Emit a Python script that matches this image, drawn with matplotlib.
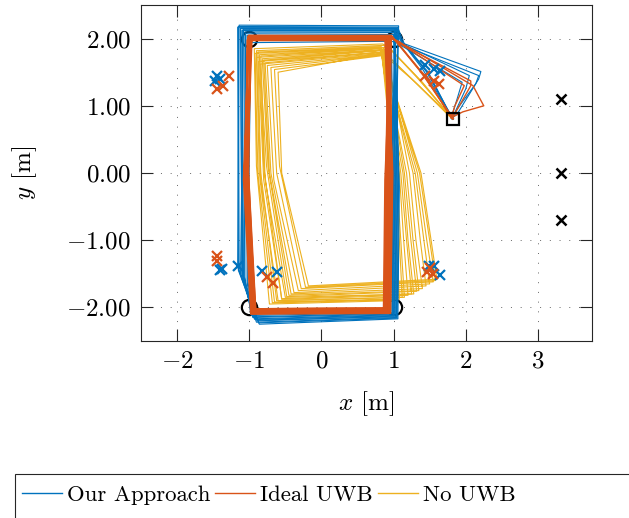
import matplotlib
matplotlib.use('Agg')
import matplotlib.pyplot as plt
from matplotlib.lines import Line2D
from matplotlib.patches import Rectangle
from matplotlib.ticker import FuncFormatter, MultipleLocator

# couleurs (palette matlab)
c_blue = '#0072BD'
c_orange = '#D95319'
c_yellow = '#EDB120'

########################
# Donnees
########################

# coins de chaque tour : TR, TL, gauche, BL, BR, droite
blue_tr_x = [1.04, 1.06, 1.02, 1.05, 1.07, 1.01, 1.04, 1.00, 1.03, 1.06, 1.02, 0.97]
blue_tr_y = [2.14, 2.17, 2.12, 2.15, 2.19, 2.10, 2.15, 2.06, 2.13, 2.16, 2.09, 1.96]
blue_tl_x = [-1.12, -1.15, -1.10, -1.08, -1.14, -1.06, -1.12, -1.03, -1.09, -1.16, -1.05, -0.98]
blue_tl_y = [2.15, 2.18, 2.12, 2.14, 2.20, 2.10, 2.16, 2.05, 2.13, 2.17, 2.08, 1.94]
blue_l_x = [-1.10, -1.14, -1.08, -1.12, -1.16, -1.06, -1.10, -1.03, -1.09, -1.15, -1.07, -1.02]
blue_l_y = [-1.50, -1.45, -1.55, -1.50, -1.40, -1.55, -1.50, -1.60, -1.50, -1.45, -1.55, -1.60]
blue_bl_x = [-0.92, -0.90, -0.95, -0.88, -0.86, -0.97, -0.90, -0.98, -0.93, -0.87, -0.95, -0.96]
blue_bl_y = [-2.18, -2.22, -2.15, -2.20, -2.25, -2.12, -2.19, -2.10, -2.17, -2.23, -2.14, -2.05]
blue_br_x = [1.02, 1.05, 0.99, 1.01, 1.06, 0.98, 1.03, 0.96, 1.00, 1.04, 0.98, 0.93]
blue_br_y = [-2.12, -2.15, -2.10, -2.13, -2.17, -2.08, -2.14, -2.06, -2.11, -2.16, -2.09, -2.05]
blue_r_x = [1.04, 1.07, 1.01, 1.03, 1.08, 0.99, 1.05, 0.97, 1.02, 1.06, 1.00, 0.94]
blue_r_y = [0.10, -0.10, 0.00, 0.20, -0.20, 0.00, 0.10, -0.10, 0.00, 0.20, -0.10, 0.00]
blue_runs = [3, 3, 3, 3]
blue_start_x = [[1.82, 1.45, 1.10], [1.80, 1.50, 1.12], [1.83, 1.40, 1.08], [1.81, 1.48, 1.15]]
blue_start_y = [[0.81, 1.52, 1.98], [0.83, 1.45, 1.95], [0.80, 1.55, 2.00], [0.82, 1.50, 1.92]]
blue_end_x = [[1.08, 2.21, 2.18, 1.90, 1.82], [1.06, 2.18, 2.14, 1.88, 1.81],
              [1.05, 2.05, 2.00, 1.85, 1.80], [1.04, 1.95, 1.88, 1.80]]
blue_end_y = [[1.95, 1.51, 1.40, 0.91, 0.82], [1.93, 1.45, 1.33, 0.95, 0.80],
              [1.96, 1.45, 1.25, 0.90, 0.81], [1.94, 1.35, 1.10, 0.83]]

orange_tr_x = [0.95, 0.91, 0.97, 0.89, 0.93, 0.98, 0.91, 0.94, 0.88, 0.96, 0.92, 0.90, 0.97, 0.93]
orange_tr_y = [2.03, 2.00, 2.05, 1.98, 2.02, 2.04, 1.98, 2.03, 1.99, 2.04, 2.01, 1.97, 2.03, 2.00]
orange_tl_x = [-1.02, -0.98, -1.00, -1.03, -0.97, -1.01, -0.99, -1.02, -0.97, -1.00, -1.02, -0.98, -1.01, -0.96]
orange_tl_y = [2.03, 2.00, 2.04, 1.98, 2.02, 2.05, 1.98, 2.01, 2.03, 1.99, 2.03, 1.97, 2.00, 2.04]
orange_l_x = [-1.06, -1.02, -1.07, -1.03, -1.05, -1.08, -1.01, -1.06, -1.04, -1.07, -1.05, -1.01, -1.06, -1.03]
orange_l_y = [0.00, 0.10, -0.10, 0.00, 0.20, -0.10, 0.00, 0.10, -0.20, 0.00, 0.10, 0.00, -0.10, 0.00]
orange_bl_x = [-0.95, -0.92, -0.97, -0.91, -0.94, -0.98, -0.92, -0.96, -0.93, -0.97, -0.95, -0.91, -0.96, -0.94]
orange_bl_y = [-2.06, -2.03, -2.08, -2.02, -2.05, -2.10, -2.02, -2.07, -2.04, -2.09, -2.05, -2.02, -2.08, -2.06]
orange_br_x = [0.93, 0.89, 0.95, 0.87, 0.91, 0.96, 0.89, 0.92, 0.86, 0.94, 0.90, 0.88, 0.95, 0.91]
orange_br_y = [-2.05, -2.02, -2.07, -2.01, -2.04, -2.09, -2.01, -2.06, -2.03, -2.08, -2.04, -2.01, -2.07, -2.05]
orange_r_x = [0.96, 0.91, 0.98, 0.89, 0.93, 0.99, 0.91, 0.95, 0.88, 0.97, 0.92, 0.90, 0.98, 0.94]
orange_r_y = [0.00, -0.10, 0.10, 0.00, -0.20, 0.00, 0.10, 0.00, -0.10, 0.20, 0.00, -0.10, 0.00, 0.10]
orange_runs = [5, 5, 4]
orange_start_x = [[1.82, 1.42, 1.05], [1.80, 1.47, 1.02], [1.83, 1.38, 1.00]]
orange_start_y = [[0.80, 1.45, 1.95], [0.82, 1.40, 1.98], [0.81, 1.50, 2.00]]
orange_end_x = [[1.05, 2.10, 2.25, 1.96, 1.83], [1.03, 2.07, 2.07, 1.89, 1.81], [1.02, 1.98, 1.85, 1.80]]
orange_end_y = [[1.97, 1.30, 1.00, 0.91, 0.84], [1.96, 1.37, 1.30, 0.96, 0.82], [1.98, 1.30, 1.00, 0.82]]

yellow_tr_x = [0.85, 0.88, 0.83, 0.90, 0.86, 0.82, 0.89, 0.87, 0.84, 0.90, 0.86, 0.83, 0.88, 0.85, 0.87, 0.84]
yellow_tr_y = [1.92, 1.90, 1.88, 1.87, 1.86, 1.85, 1.84, 1.83, 1.82, 1.80, 1.80, 1.78, 1.77, 1.76, 1.75, 1.78]
yellow_tl_x = [-0.93, -0.90, -0.88, -0.92, -0.86, -0.84, -0.90, -0.82, -0.80, -0.87, -0.78, -0.85, -0.75, -0.70, -0.65, -0.60]
yellow_tl_y = [1.85, 1.82, 1.80, 1.78, 1.76, 1.74, 1.72, 1.70, 1.68, 1.66, 1.64, 1.62, 1.60, 1.57, 1.54, 1.50]
yellow_l_x = [-0.90, -0.86, -0.84, -0.88, -0.80, -0.78, -0.84, -0.74, -0.72, -0.80, -0.70, -0.76, -0.66, -0.62, -0.58, -0.55]
yellow_l_y = [0.10, 0.00, -0.10, 0.00, 0.10, -0.10, 0.00, 0.10, 0.00, -0.10, 0.00, 0.10, -0.10, 0.00, 0.10, 0.00]
yellow_bl_x = [-0.72, -0.65, -0.60, -0.68, -0.55, -0.50, -0.62, -0.45, -0.42, -0.55, -0.38, -0.48, -0.32, -0.28, -0.22, -0.18]
yellow_bl_y = [-1.95, -1.92, -1.90, -1.93, -1.88, -1.85, -1.90, -1.82, -1.80, -1.87, -1.78, -1.84, -1.75, -1.72, -1.70, -1.68]
yellow_br_x = [1.00, 1.08, 1.15, 1.05, 1.20, 1.28, 1.12, 1.35, 1.40, 1.25, 1.45, 1.32, 1.50, 1.55, 1.58, 1.60]
yellow_br_y = [-1.90, -1.88, -1.85, -1.88, -1.82, -1.80, -1.85, -1.75, -1.72, -1.80, -1.68, -1.76, -1.65, -1.62, -1.60, -1.58]
yellow_rb_x = [0.98, 1.04, 1.10, 1.02, 1.14, 1.20, 1.08, 1.27, 1.31, 1.18, 1.37, 1.24, 1.42, 1.46, 1.50, 1.52]
yellow_rb_y = [-1.00, -1.00, -1.00, -1.00, -1.00, -1.00, -1.00, -1.00, -1.00, -1.00, -1.00, -1.00, -1.00, -1.00, -1.00, -1.00]
yellow_r_x = [0.97, 1.00, 1.04, 0.99, 1.08, 1.13, 1.02, 1.18, 1.22, 1.10, 1.27, 1.15, 1.30, 1.33, 1.36, 1.38]
yellow_r_y = [0.00, 0.00, 0.00, 0.00, 0.00, 0.00, 0.00, 0.00, 0.00, 0.00, 0.00, 0.00, 0.00, 0.00, 0.00, 0.00]
yellow_runs = [6, 5, 5]
yellow_start_x = [[1.80, 1.35, 0.95], [1.82, 1.40, 0.98], [1.81, 1.30, 0.92]]
yellow_start_y = [[0.82, 1.40, 1.85], [0.80, 1.35, 1.82], [0.83, 1.45, 1.88]]
yellow_end_x = [[1.30, 1.78], [1.35, 1.80], [1.25, 1.79]]
yellow_end_y = [[1.35, 0.84], [1.30, 0.82], [1.40, 0.85]]

# reperes
corner_x = [-1, 1, -1, 1]
corner_y = [2, 2, -2, -2]
depart_x = [1.82]
depart_y = [0.80]
ancre_x = [3.32, 3.32, 3.32]
ancre_y = [1.10, 0.00, -0.70]
blue_est_x = [-1.44, -1.40, -1.47, -1.38, -1.40, -1.15, -0.82, -0.61, 1.49, 1.56, 1.65, 1.44, 1.56, 1.65]
blue_est_y = [1.45, 1.40, 1.37, -1.43, -1.45, -1.39, -1.46, -1.48, -1.39, -1.39, -1.52, 1.60, 1.55, 1.52]
orange_est_x = [-1.28, -1.44, -1.37, -1.44, -1.44, -0.75, -0.67, 1.47, 1.54, 1.50, 1.44, 1.56, 1.63]
orange_est_y = [1.45, 1.25, 1.30, -1.24, -1.31, -1.55, -1.63, -1.48, -1.51, -1.42, 1.45, 1.37, 1.33]


########################
# Fonctions
########################

# assemble les tours d'une serie en trajets (un trajet = depart, tours, retour)
def trajets(pts, runs, sx, sy, ex, ey):
    res = []
    k = 0
    for r in range(len(runs)):
        xs = list(sx[r])
        ys = list(sy[r])
        for i in range(k, k + runs[r]):
            for px, py in pts:
                xs.append(px[i])
                ys.append(py[i])
        # on revient au coin haut droit
        xs.append(pts[0][0][k + runs[r] - 1])
        ys.append(pts[0][1][k + runs[r] - 1])
        xs += ex[r]
        ys += ey[r]
        res.append((xs, ys))
        k += runs[r]
    return res


########################
# Script
########################

plt.rcParams['mathtext.fontset'] = 'cm'
plt.rcParams['font.family'] = ['cmr10', 'DejaVu Serif']
plt.rcParams['axes.unicode_minus'] = False

fig = plt.figure(figsize=(6.29, 5.18), dpi=100)
ax = fig.add_axes([141/629, 1 - 341/518, 451/629, 336/518])

ax.plot(corner_x, corner_y, 'o', ms=11, mfc='none', mec='k', mew=1.6, zorder=1)

pts_y = [(yellow_tr_x, yellow_tr_y), (yellow_tl_x, yellow_tl_y), (yellow_l_x, yellow_l_y),
         (yellow_bl_x, yellow_bl_y), (yellow_br_x, yellow_br_y), (yellow_rb_x, yellow_rb_y),
         (yellow_r_x, yellow_r_y)]
for xs, ys in trajets(pts_y, yellow_runs, yellow_start_x, yellow_start_y, yellow_end_x, yellow_end_y):
    ax.plot(xs, ys, color=c_yellow, lw=0.8, zorder=2)

pts_b = [(blue_tr_x, blue_tr_y), (blue_tl_x, blue_tl_y), (blue_l_x, blue_l_y),
         (blue_bl_x, blue_bl_y), (blue_br_x, blue_br_y), (blue_r_x, blue_r_y)]
for xs, ys in trajets(pts_b, blue_runs, blue_start_x, blue_start_y, blue_end_x, blue_end_y):
    ax.plot(xs, ys, color=c_blue, lw=0.8, zorder=3)

pts_o = [(orange_tr_x, orange_tr_y), (orange_tl_x, orange_tl_y), (orange_l_x, orange_l_y),
         (orange_bl_x, orange_bl_y), (orange_br_x, orange_br_y), (orange_r_x, orange_r_y)]
for xs, ys in trajets(pts_o, orange_runs, orange_start_x, orange_start_y, orange_end_x, orange_end_y):
    ax.plot(xs, ys, color=c_orange, lw=1.0, zorder=4)

ax.plot(blue_est_x, blue_est_y, 'x', color=c_blue, ms=7, mew=1.6, zorder=5)
ax.plot(orange_est_x, orange_est_y, 'x', color=c_orange, ms=7, mew=1.6, zorder=5)
ax.plot(ancre_x, ancre_y, 'x', color='k', ms=7, mew=1.8, zorder=6)
ax.plot(depart_x, depart_y, 's', ms=9, mfc='none', mec='k', mew=1.6, zorder=6)

ax.set_xlim(-2.5, 3.75)
ax.set_ylim(-2.5, 2.5)
ax.xaxis.set_major_locator(MultipleLocator(1))
ax.yaxis.set_major_locator(MultipleLocator(1))
ax.xaxis.set_major_formatter(FuncFormatter(lambda v, p: r'$%d$' % round(v)))
ax.yaxis.set_major_formatter(FuncFormatter(lambda v, p: r'$%.2f$' % v))
ax.tick_params(direction='in', length=8.5, width=0.8, labelsize=18, pad=7,
               top=True, right=True, colors='#262626', labelcolor='k')
ax.grid(True, linestyle=(0, (1, 9)), color='#666666', lw=0.7)
for s in ax.spines.values():
    s.set_color('#262626')
    s.set_linewidth(0.8)

ax.set_xlabel(r'$x$ [m]', fontsize=18, labelpad=12)
ax.set_ylabel(r'$y$ [m]', fontsize=18, labelpad=20)

# legende sous le graphique, cadre qui deborde a droite et en bas
handles = [Line2D([], [], color=c_blue, lw=1),
           Line2D([], [], color=c_orange, lw=1),
           Line2D([], [], color=c_yellow, lw=1)]
fig.legend(handles, ['Our Approach', 'Ideal UWB', 'No UWB'], ncol=3, frameon=False,
           loc='center left', bbox_to_anchor=(22/629, 1 - 495/518), fontsize=16.4,
           handlelength=1.75, handletextpad=0.22, columnspacing=0.22, borderpad=0, borderaxespad=0)
fig.patches.append(Rectangle((15/629, -0.05), 1.1, 0.05 + 1 - 474/518, transform=fig.transFigure,
                             fill=False, edgecolor='#262626', lw=0.8))

fig.savefig('out.png', dpi=100)
